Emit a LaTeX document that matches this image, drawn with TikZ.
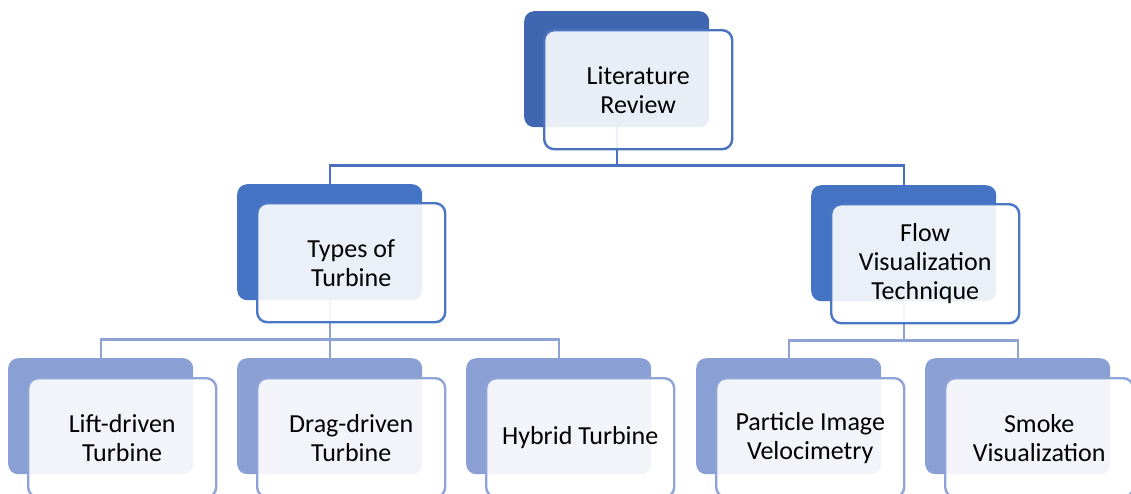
\documentclass[tikz,border=0pt]{standalone}
\usepackage{fontspec}
\setmainfont{Carlito}
\usetikzlibrary{calc}
\pgfdeclarelayer{bg}
\pgfsetlayers{bg,main}
\definecolor{lone}{HTML}{3F67B1}
\definecolor{loneb}{HTML}{4A72BD}
\definecolor{ltwo}{HTML}{4674C4}
\definecolor{ltwob}{HTML}{4A76C6}
\definecolor{lthree}{HTML}{8A9FD3}
\definecolor{lthreeb}{HTML}{8FA4D6}
\definecolor{cone}{HTML}{4A71BF}
\definecolor{ctwo}{HTML}{8EA2D4}
\begin{document}
\begin{tikzpicture}[x=1pt,y=-1pt,
  back/.style={rectangle, rounded corners=10pt, minimum width=185pt, minimum height=116pt, anchor=north west, inner sep=0pt},
  front/.style={rectangle, rounded corners=10pt, minimum width=188pt, minimum height=119pt, anchor=north west, fill=white, fill opacity=0.89, text opacity=1, line width=2.4pt, align=center, font=\fontsize{26}{29}\selectfont, inner sep=0pt},
  conn/.style={line width=2.4pt},
]
\useasboundingbox (0,0) rectangle (1131,493);
\clip (0,0) rectangle (1131,493);
% level 1
\node[back, fill=lone] (lrb) at (524,11) {};
\node[front, draw=loneb] (lrf) at ($(lrb.north west)+(19,18)$) {Literature\\Review};
% level 2
\node[back, fill=ltwo] (ttb) at (237,184) {};
\node[front, draw=ltwob] (ttf) at ($(ttb.north west)+(19,18)$) {Types of\\Turbine};
\node[back, fill=ltwo] (fvb) at (811,185) {};
\node[front, draw=ltwob] (fvf) at ($(fvb.north west)+(19,18)$) {Flow\\Visualization\\Technique};
% level 3
\node[back, fill=lthree] (lib) at (8,358) {};
\node[front, draw=lthreeb] (lif) at ($(lib.north west)+(19,19)$) {Lift-driven\\Turbine};
\node[back, fill=lthree] (drb) at (237,358) {};
\node[front, draw=lthreeb] (drf) at ($(drb.north west)+(19,19)$) {Drag-driven\\Turbine};
\node[back, fill=lthree] (hyb) at (466,358) {};
\node[front, draw=lthreeb] (hyf) at ($(hyb.north west)+(19,19)$) {Hybrid Turbine};
\node[back, fill=lthree] (pab) at (696,358) {};
\node[front, draw=lthreeb] (paf) at ($(pab.north west)+(19,19)$) {Particle Image\\Velocimetry};
\node[back, fill=lthree] (smb) at (925,358) {};
\node[front, draw=lthreeb] (smf) at ($(smb.north west)+(19,19)$) {Smoke\\Visualization};
% connectors
\begin{pgfonlayer}{bg}
\draw[conn, cone] (lrb.south) -- ++(0,38) -| (ttb.north);
\draw[conn, cone] (lrb.south) -- ++(0,38) -| (fvb.north);
\draw[conn, ctwo] (ttb.south) -- ++(0,39) -| (lib.north);
\draw[conn, ctwo] (ttb.south) -- (drb.north);
\draw[conn, ctwo] (ttb.south) -- ++(0,39) -| (hyb.north);
\draw[conn, ctwo] (fvb.south) -- ++(0,39) -| (pab.north);
\draw[conn, ctwo] (fvb.south) -- ++(0,39) -| (smb.north);
\end{pgfonlayer}
\end{tikzpicture}
\end{document}
